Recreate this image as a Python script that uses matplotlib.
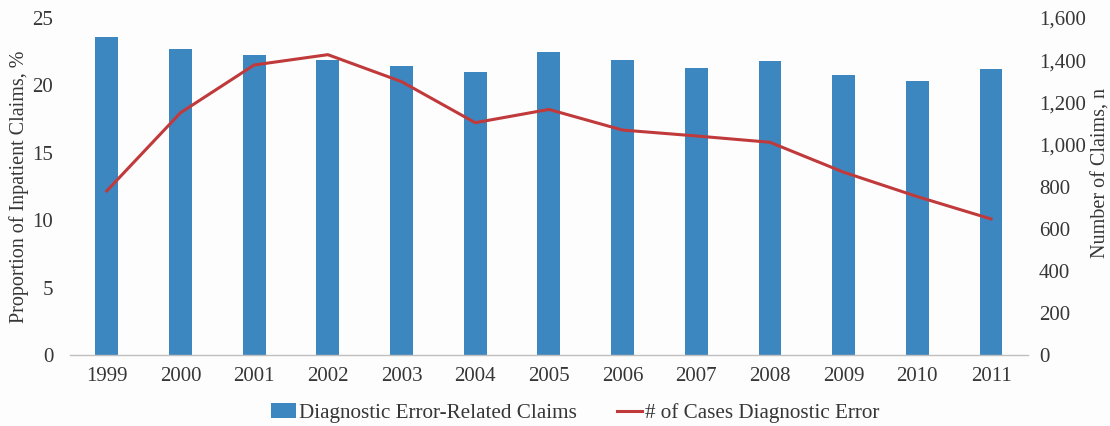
import matplotlib
matplotlib.use("Agg")
import matplotlib.pyplot as plt
from matplotlib.ticker import FuncFormatter, MultipleLocator
from matplotlib.patches import Patch
from matplotlib.lines import Line2D

years = ["1999", "2000", "2001", "2002", "2003", "2004", "2005",
         "2006", "2007", "2008", "2009", "2010", "2011"]
proportion_pct = [23.6, 22.7, 22.27, 21.88, 21.46, 20.96, 22.5,
                  21.9, 21.29, 21.83, 20.79, 20.3, 21.2]
claims_n = [779, 1150, 1377, 1426, 1298, 1103, 1166,
            1068, 1040, 1010, 868, 752, 646]

bar_color = "#3d87c1"
line_color = "#c0393b"
text_color = "#363636"
bg = "#fdfdfd"

plt.rcParams["font.family"] = ["Liberation Serif", "DejaVu Serif"]

fig = plt.figure(figsize=(11.1, 4.26), dpi=100, facecolor=bg)
ax = fig.add_axes([0.063, 0.1667, 0.863, 0.791])
ax.set_facecolor(bg)
ax2 = ax.twinx()

x = list(range(len(years)))
ax.bar(x, proportion_pct, width=0.31, color=bar_color, zorder=2)
ax2.plot(x, claims_n, color=line_color, lw=2.2, zorder=3)

ax.set_xlim(-0.5, len(years) - 0.5)
ax.set_ylim(0, 25)
ax2.set_ylim(0, 1600)
ax.yaxis.set_major_locator(MultipleLocator(5))
ax2.yaxis.set_major_locator(MultipleLocator(200))
ax2.yaxis.set_major_formatter(FuncFormatter(lambda v, p: f"{int(v):,}"))

ax.set_xticks(x)
ax.set_xticklabels(years)

for a in (ax, ax2):
    for s in a.spines.values():
        s.set_visible(False)
    a.tick_params(length=0, colors=text_color, labelsize=15)
ax.spines["bottom"].set_visible(True)
ax.spines["bottom"].set_color("#bfbfbf")
ax.spines["bottom"].set_linewidth(1)
ax.tick_params(axis="y", pad=12)
ax.tick_params(axis="x", pad=9)
ax2.tick_params(axis="y", pad=8)

ax.set_ylabel("Proportion of Inpatient Claims, %", fontsize=14.5,
              color=text_color)
ax.yaxis.set_label_coords(-0.043, 0.5)
ax2.set_ylabel("Number of Claims, n", fontsize=14.5, color=text_color)
ax2.yaxis.set_label_coords(1.066, 0.54)

handles = [Patch(facecolor=bar_color, edgecolor="none"),
           Line2D([0], [0], color=line_color, lw=2.2)]
fig.legend(handles, ["Diagnostic Error-Related Claims",
                     "# of Cases Diagnostic Error"],
           loc="center", bbox_to_anchor=(0.518, 0.03), ncol=2, frameon=False,
           fontsize=15.2, handlelength=1.2, handletextpad=0.12,
           columnspacing=1.9, labelcolor=text_color)

fig.savefig("out.png", dpi=100, facecolor=bg)
